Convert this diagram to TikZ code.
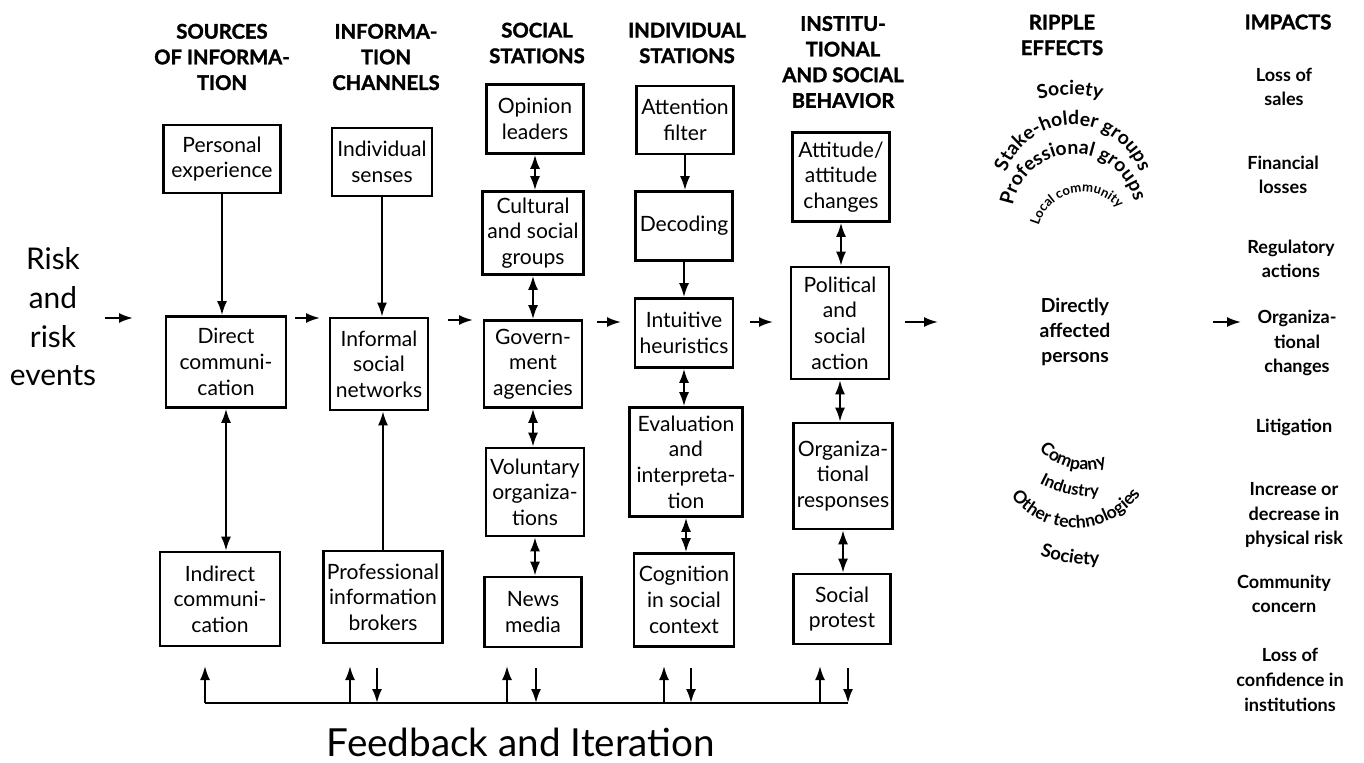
\documentclass[tikz,border=0pt]{standalone}
\usepackage{fontspec}
\setmainfont{Lato}
\newfontfamily\heavyfont{Lato}[BoldFeatures={FakeBold=1.6}]
\usetikzlibrary{arrows.meta,decorations.text}

\tikzset{
	box/.style={draw, line width=1.5pt, align=center, inner sep=2pt, font=\fontsize{12}{14.6}\selectfont},
	head/.style={align=center, font=\heavyfont\bfseries\fontsize{11.5}{14.6}\selectfont},
	impact/.style={align=center, font=\bfseries\fontsize{10.3}{14}\selectfont},
	arr/.style={line width=1.2pt, -{Latex[length=2.8mm,width=2mm]}},
	darr/.style={line width=1.2pt, {Latex[length=2.8mm,width=2mm]}-{Latex[length=2.8mm,width=2mm]}},
	ripple/.style={decorate, decoration={text along path, text align=center}},
}

\begin{document}
\begin{tikzpicture}[x=0.02cm, y=-0.02cm]
	\useasboundingbox (0,0) rectangle (1364,763);
	% column headers
	\node[head] (h1) at (222,57) {SOURCES\\OF INFORMA-\\TION};
	\node[head] (h2) at (386,57) {INFORMA-\\TION\\CHANNELS};
	\node[head] (h3) at (537,43) {SOCIAL\\STATIONS};
	\node[head] (h4) at (687,43) {INDIVIDUAL\\STATIONS};
	\node[head] (h5) at (843,62) {INSTITU-\\TIONAL\\AND SOCIAL\\BEHAVIOR};
	\node[head] (h6) at (1062,35) {RIPPLE\\EFFECTS};
	\node[head] (h7) at (1288,22) {IMPACTS};
	\node[font=\fontsize{17}{22}\selectfont, align=center] (risk) at (53,317) {Risk\\and\\risk\\events};
	% sources of information
	\node[box, minimum width=2.34cm, minimum height=1.36cm] (pers) at (222,159) {Personal\\experience};
	\node[box, minimum width=2.4cm, minimum height=1.82cm] (direct) at (226,362) {Direct\\communi-\\cation};
	\node[box, minimum width=2.4cm, minimum height=1.88cm] (indirect) at (220,599) {Indirect\\communi-\\cation};
	% information channels
	\node[box, minimum width=2cm, minimum height=1.36cm] (senses) at (382,162) {Individual\\senses};
	\node[box, minimum width=1.96cm, minimum height=1.84cm] (informal) at (379,364) {Informal\\social\\networks};
	\node[box, minimum width=2.32cm, minimum height=1.84cm] (prof) at (383,597) {Professional\\information\\brokers};
	% social stations
	\node[box, minimum width=1.94cm, minimum height=1.38cm] (opinion) at (535,119) {Opinion\\leaders};
	\node[box, minimum width=2.02cm, minimum height=1.66cm] (cultural) at (533,233) {Cultural\\and social\\groups};
	\node[box, minimum width=1.96cm, minimum height=1.74cm] (govt) at (533,364) {Govern-\\ment\\agencies};
	\node[box, minimum width=1.96cm, minimum height=1.76cm] (volunt) at (535,492) {Voluntary\\organiza-\\tions};
	\node[box, minimum width=1.94cm, minimum height=1.4cm] (news) at (533,612) {News\\media};
	% individual stations
	\node[box, minimum width=1.94cm, minimum height=1.36cm] (attent) at (685,120) {Attention\\filter};
	\node[box, minimum width=1.94cm, minimum height=1.38cm] (decod) at (684,226) {Decoding};
	\node[box, minimum width=1.96cm, minimum height=1.38cm] (intuit) at (684,333) {Intuitive\\heuristics};
	\node[box, minimum width=2.26cm, minimum height=2.18cm] (eval) at (686,462) {Evaluation\\and\\interpreta-\\tion};
	\node[box, minimum width=2cm, minimum height=1.86cm] (cogn) at (684,600) {Cognition\\in social\\context};
	% institutional and social behavior
	\node[box, minimum width=1.94cm, minimum height=1.78cm] (attit) at (841,177) {Attitude/\\attitude\\changes};
	\node[box, minimum width=1.96cm, minimum height=2.24cm] (polit) at (840,323) {Political\\and\\social\\action};
	\node[box, minimum width=1.98cm, minimum height=2.12cm] (organ) at (843,476) {Organiza-\\tional\\responses};
	\node[box, minimum width=1.94cm, minimum height=1.4cm] (protest) at (842,609) {Social\\protest};
	% ripple effects
	\node[impact, font=\bfseries\fontsize{11}{14.2}\selectfont] (affected) at (1075,332) {Directly\\affected\\persons};
	\path[ripple, decoration={text={|\bfseries\fontsize{11}{13}\selectfont|Society}}] (1070,210) ++(-112:115) arc[start angle=-112, end angle=-68, radius=115];
	\path[ripple, decoration={text={|\bfseries\fontsize{11}{13}\selectfont|Stake-holder groups}}] (1073,196) ++(-172:71) arc[start angle=-172, end angle=-8, radius=71];
	\path[ripple, decoration={text={|\bfseries\fontsize{11}{13}\selectfont|Professional groups}}] (1074,216) ++(-182:62) arc[start angle=-182, end angle=-2, radius=62];
	\path[ripple, decoration={text={|\bfseries\fontsize{7.5}{9}\selectfont|Local community}}] (1083,238) ++(-170:46) arc[start angle=-170, end angle=-35, radius=46];
	\path[ripple, decoration={text={|\bfseries\fontsize{10}{12}\selectfont|Company}}] (1085,409) ++(-218:61) arc[start angle=-218, end angle=-294, radius=61];
	\path[ripple, decoration={text={|\bfseries\fontsize{9.5}{11}\selectfont|Industry}}] (1095,378) ++(-236:119) arc[start angle=-236, end angle=-278, radius=119];
	\path[ripple, decoration={text={|\bfseries\fontsize{10}{12}\selectfont|Other technologies}}] (1075,448) ++(-206:80) arc[start angle=-206, end angle=-336, radius=80];
	\path[ripple, decoration={text={|\bfseries\fontsize{10.5}{12}\selectfont|Society}}] (1095,400) ++(-246:165) arc[start angle=-246, end angle=-276, radius=165];
	% impacts
	\node[impact] (imp1) at (1284,87) {Loss of\\sales};
	\node[impact] (imp2) at (1283,175) {Financial\\losses};
	\node[impact] (imp3) at (1291,259) {Regulatory\\actions};
	\node[impact] (imp4) at (1297,343) {Organiza-\\tional\\changes};
	\node[impact] (imp5) at (1294,427) {Litigation};
	\node[impact] (imp6) at (1294,515) {Increase or\\decrease in\\physical risk};
	\node[impact] (imp7) at (1284,594) {Community\\concern};
	\node[impact] (imp8) at (1290,680) {Loss of\\confidence in\\institutions};
	% connectors inside the columns
	\draw[arr] (pers) -- (pers |- direct.north);
	\draw[darr] (direct) -- (direct |- indirect.north);
	\draw[arr] (senses) -- (senses |- informal.north);
	\draw[arr] (prof) -- (prof |- informal.south);
	\draw[darr] (opinion) -- (opinion |- cultural.north);
	\draw[darr] (cultural) -- (cultural |- govt.north);
	\draw[darr] (govt) -- (govt |- volunt.north);
	\draw[darr] (volunt) -- (volunt |- news.north);
	\draw[arr] (attent) -- (attent |- decod.north);
	\draw[arr] (decod) -- (decod |- intuit.north);
	\draw[darr] (intuit) -- (intuit |- eval.north);
	\draw[darr] (eval) -- (eval |- cogn.north);
	\draw[darr] (attit) -- (attit |- polit.north);
	\draw[darr] (polit) -- (polit |- organ.north);
	\draw[darr] (organ) -- (organ |- protest.north);
	% arrows between the columns
	\foreach \xa/\xb/\ya [count=\i] in {105/133/318, 295/320/318, 448/473/320, 597/621/322, 750/773/322, 905/938/322, 1213/1241/322} {
		\coordinate (s\i) at (\xa,\ya);
		\coordinate (e\i) at (\xb,\ya);
		\draw[arr] (s\i) -- (e\i);
	}
	% feedback and iteration
	\foreach \x [count=\i] in {205,350,507,664,820} {
		\coordinate (fu\i) at (\x,703);
		\coordinate (fut\i) at (\x,666);
		\draw[arr] (fu\i) -- (fut\i);
	}
	\foreach \x [count=\i] in {377,536,691,848} {
		\coordinate (fd\i) at (\x,668);
		\coordinate (fdt\i) at (\x,703);
		\draw[arr] (fd\i) -- (fdt\i);
	}
	\draw[line width=1.2pt] (fu1) -- (fdt4);
	\node[font=\fontsize{22}{26}\selectfont, inner sep=0pt] (feedback) at (521,742) {Feedback and Iteration};
\end{tikzpicture}
\end{document}
